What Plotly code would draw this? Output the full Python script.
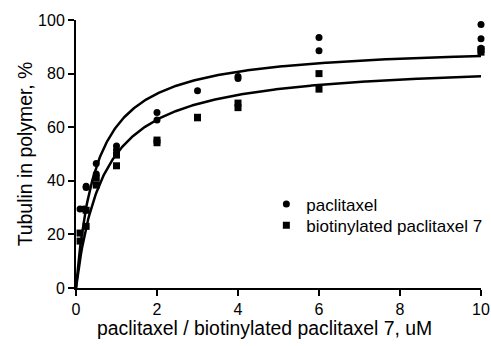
import numpy as np
import plotly.graph_objects as go

# Paclitaxel (circles)
pac_x = [0.1, 0.2, 0.25, 0.25, 0.5, 0.5, 1, 1, 2, 2, 3, 4, 4, 6, 6, 10, 10, 10]
pac_y = [29.5, 29.5, 37.5, 38.0, 46.5, 42.5, 53.0, 51.5, 65.5, 62.7, 73.6, 78.9, 78.2, 93.5, 88.5, 98.3, 93.0, 89.5]

# Biotinylated paclitaxel 7 (squares)
bio_x = [0.1, 0.1, 0.25, 0.25, 0.5, 0.5, 1, 1, 2, 2, 3, 3, 4, 4, 6, 6, 10, 10]
bio_y = [20.5, 17.5, 23.0, 29.0, 41.0, 38.4, 49.6, 45.6, 55.2, 54.2, 63.7, 63.5, 69.0, 67.3, 80.0, 74.2, 89.0, 88.0]

# One-site hyperbolic fits: y = Bmax*x/(Kd+x)
pac_bmax, pac_kd = 91.0, 0.51
bio_bmax, bio_kd = 84.5, 0.69

x_ticks = [0, 2, 4, 6, 8, 10]
y_ticks = [0, 20, 40, 60, 80, 100]

x_title = "paclitaxel / biotinylated paclitaxel 7, uM"
y_title = "Tubulin in polymer, %"

xs = np.linspace(0, 10, 400)
fit_pac = pac_bmax * xs / (pac_kd + xs)
fit_bio = bio_bmax * xs / (bio_kd + xs)

FONT = "Arial, Liberation Sans, sans-serif"

fig = go.Figure()
fig.add_trace(go.Scatter(x=xs, y=fit_pac, mode="lines", line=dict(color="black", width=2.5),
                         showlegend=False, hoverinfo="skip", cliponaxis=False))
fig.add_trace(go.Scatter(x=xs, y=fit_bio, mode="lines", line=dict(color="black", width=2.5),
                         showlegend=False, hoverinfo="skip", cliponaxis=False))
fig.add_trace(go.Scatter(x=pac_x, y=pac_y, mode="markers", name="paclitaxel", legend="legend",
                         marker=dict(symbol="circle", size=7, color="black"), cliponaxis=False))
fig.add_trace(go.Scatter(x=bio_x, y=bio_y, mode="markers", name="biotinylated paclitaxel 7", legend="legend2",
                         marker=dict(symbol="square", size=7, color="black"), cliponaxis=False))

axis_common = dict(showgrid=False, zeroline=False, showline=True, linecolor="black", linewidth=2,
                   ticks="outside", ticklen=6, tickwidth=2, tickcolor="black", automargin=False,
                   tickfont=dict(family=FONT, size=16, color="black"))

legend_common = dict(xanchor="left", yanchor="top", bgcolor="rgba(0,0,0,0)",
                     font=dict(family=FONT, size=17, color="black"))

fig.update_layout(
    width=491, height=346, autosize=False,
    margin=dict(l=76, r=10, t=20, b=58, autoexpand=False),
    paper_bgcolor="white", plot_bgcolor="white",
    font=dict(family=FONT, size=16, color="black"),
    xaxis=dict(range=[0, 10], tickvals=x_ticks, ticktext=[str(v) for v in x_ticks], **axis_common),
    yaxis=dict(range=[0, 100], tickvals=y_ticks, ticktext=[str(v) for v in y_ticks],
               title=dict(text=y_title, font=dict(family=FONT, size=19.4), standoff=0),
               **axis_common),
    legend=dict(x=0.47, y=0.379, **legend_common),
    legend2=dict(x=0.47, y=0.300, **legend_common),
    showlegend=True,
    annotations=[dict(text=x_title, xref="paper", yref="paper", x=0.465, y=0,
                      xanchor="center", yanchor="middle", yshift=-40, showarrow=False,
                      font=dict(family=FONT, size=19.4, color="black"))],
)

fig.write_html("out.html", config={"displayModeBar": False, "responsive": False},
               post_script="document.body.style.margin='0';document.body.style.overflow='hidden';")
